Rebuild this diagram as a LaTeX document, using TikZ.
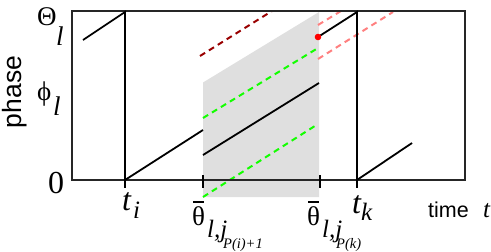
\documentclass[tikz,border=0pt]{standalone}
\usepackage{fontspec}
\setmainfont{Liberation Serif}
\setsansfont{Liberation Sans}
\newcommand\fsBig{\fontsize{27}{30}\selectfont}
\newcommand\fsZero{\fontsize{32}{34}\selectfont}
\newcommand\fsSub{\fontsize{25}{28}\selectfont}
\newcommand\fsSmall{\fontsize{14.5}{16}\selectfont}
\newcommand\fsTime{\fontsize{21.5}{24}\selectfont}
\begin{document}
\begin{tikzpicture}[x=1pt,y=-1pt,
  lbl/.style={inner sep=0pt, anchor=base west},
  curve/.style={line width=1.8pt, black},
  dsh/.style={line width=2pt, dash pattern=on 6pt off 4.5pt},
  tickmark/.style={line width=1.2pt, black}]
\useasboundingbox (0,0) rectangle (491,252);
% shaded interval
\fill[gray!25] (203,82.5) -- (319,12) -- (319,197) -- (203,197) -- cycle;
% dashed phase lines
\draw[dsh, red!60!black] (200,56) -- (272,11);
\draw[dsh, green!90!lime] (203,118) -- (318,48);
\draw[dsh, green!90!lime] (203,197) -- (318,124);
\draw[dsh, red!50] (318,25) -- (341,11);
\draw[dsh, red!50] (318,59) -- (393,12);
% frame
\draw[line width=1.4pt, black!85] (72,180) -- (72,11) -- (465,11) -- (465,180) -- cycle;
% ticks
\foreach \xx in {125,203,320,357} \draw[tickmark] (\xx,175) -- (\xx,188);
% solid phase curve
\coordinate (a0) at (83,40);
\coordinate (a1) at (125,12);
\coordinate (ti) at (125,180);
\coordinate (b1) at (203,130);
\coordinate (c0) at (203,155);
\coordinate (c1) at (319,83);
\coordinate (d0) at (318,37);
\coordinate (d1) at (357,12);
\coordinate (tk) at (357,180);
\coordinate (e1) at (412,143);
\draw[curve] (a0) -- (a1) -- (ti) -- (b1);
\draw[curve] (c0) -- (c1);
\draw[curve] (d0) -- (d1) -- (tk) -- (e1);
\fill[red] (d0) circle (3.3pt);
% axis labels
\node[inner sep=0pt, rotate=90, font=\sffamily\fontsize{26.5}{28}\selectfont] (phase) at (15,92) {phase};
\node[lbl, font=\fsTime\sffamily] (time) at (428,217) {time};
\node[lbl, font=\fsSub\itshape] (tvar) at (483,217) {t};
% y labels
\node[lbl, font=\fsBig] (Th) at (37,25) {Θ};
\node[lbl, font=\fsBig\itshape] (Thl) at (56,45) {l};
\node[lbl, font=\fsBig] (ph) at (37,100) {ϕ};
\node[lbl, font=\fsBig\itshape] (phl) at (53,115) {l};
\node[lbl, font=\fsZero] (zero) at (48,193) {0};
% x labels
\node[lbl, font=\fsZero\itshape] (tiT) at (122,210) {t};
\node[lbl, font=\fsSub\itshape] (tiS) at (133,218) {i};
\node[lbl, font=\fsZero\itshape] (tkT) at (352,213) {t};
\node[lbl, font=\fsSub\itshape] (tkS) at (361,220) {k};
\node[lbl, font=\fsBig] (thA) at (192,225) {θ};
\draw[line width=1.3pt] (193,202) -- (204,202);
\node[lbl, text depth=0pt, font=\fsSub\itshape] (thAs) at (207,237) {l,j};
\node[lbl, font=\fsSmall\itshape] (thAss) at (223,248) {P(i)+1};
\node[lbl, font=\fsBig] (thB) at (307,225) {θ};
\draw[line width=1.3pt] (308,202) -- (319,202);
\node[lbl, text depth=0pt, font=\fsSub\itshape] (thBs) at (322,237) {l,j};
\node[lbl, font=\fsSmall\itshape] (thBss) at (336,248.5) {P(k)};
\end{tikzpicture}
\end{document}
